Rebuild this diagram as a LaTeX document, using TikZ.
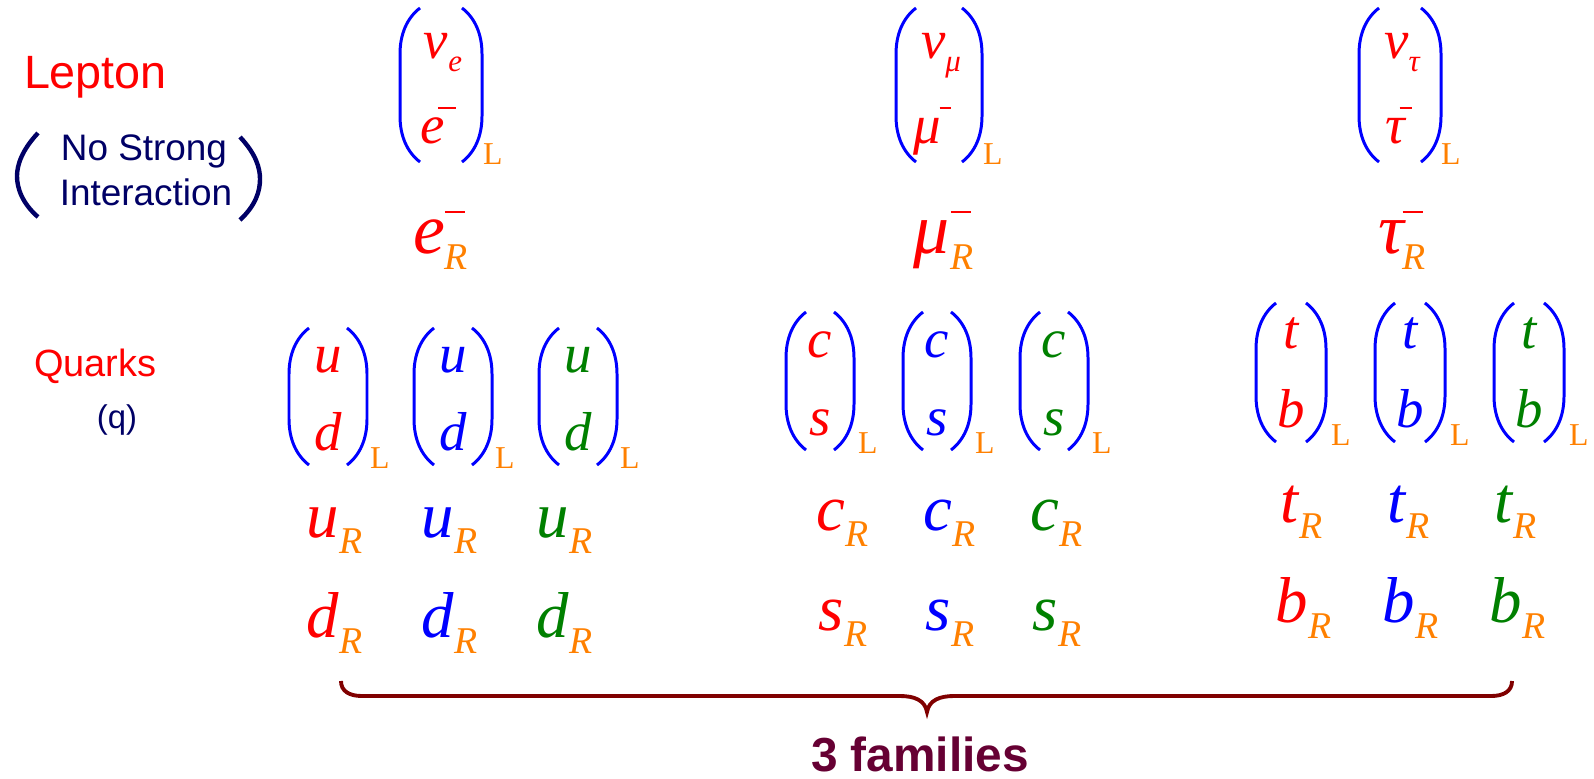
\documentclass[tikz,border=0pt]{standalone}
\usepackage{fontspec}
\setmainfont{Liberation Serif}
\newfontfamily\sansfam{Liberation Sans}

\definecolor{lepred}{RGB}{255,0,0}
\definecolor{qblue}{RGB}{0,0,255}
\definecolor{qgreen}{RGB}{0,128,0}
\definecolor{chiral}{RGB}{255,128,0}
\definecolor{navytext}{RGB}{0,0,102}
\definecolor{bracered}{RGB}{128,0,0}
\definecolor{famcolor}{RGB}{102,0,51}

\newdimen\px \px=0.56693pt

\tikzset{
  txt/.style={inner sep=0pt,outer sep=0pt},
  parenline/.style={draw=qblue,line width=1.7pt},
  sideparen/.style={draw=navytext,line width=2.5pt},
}

% subscripts and entries
\newcommand{\Lsub}{{\color{chiral}\fontsize{18.1}{18.1}\selectfont L}}
\newcommand{\Rsub}{\raisebox{-17\px}{\color{chiral}\fontsize{21.5}{21.5}\selectfont\itshape R}}
\newcommand{\dbl}[2]{{\color{#1}\fontsize{31.2}{31.2}\selectfont\itshape #2}}
\newcommand{\nusub}[1]{\dbl{lepred}{ν}\raisebox{-14\px}{\color{lepred}\fontsize{17.6}{17.6}\selectfont\itshape #1}}
\newcommand{\negbar}[3]{\kern#1\rlap{\raisebox{#2}{\color{lepred}\rule{#3}{2.4\px}}}}
\newcommand{\lepR}[2]{{\color{lepred}\fontsize{40.8}{40.8}\selectfont\itshape #1}\kern#2\negbar{0pt}{40\px}{20\px}\Rsub}
\newcommand{\quarkR}[2]{{\color{#1}\fontsize{36.9}{36.9}\selectfont\itshape #2}\kern1\px\Rsub}

% doublet brackets: centre x, top y, bottom y, half width
\newcommand{\dparen}[4]{%
  \draw[parenline] (#1-#4+20,#2) .. controls (#1-#4+7,#2+10) and (#1-#4,#2+26) .. (#1-#4,#2+46)
    -- (#1-#4,#3-46) .. controls (#1-#4,#3-26) and (#1-#4+7,#3-10) .. (#1-#4+20,#3);
  \draw[parenline] (#1+#4-20,#2) .. controls (#1+#4-7,#2+10) and (#1+#4,#2+26) .. (#1+#4,#2+46)
    -- (#1+#4,#3-46) .. controls (#1+#4,#3-26) and (#1+#4-7,#3-10) .. (#1+#4-20,#3);
}

\begin{document}
\begin{tikzpicture}[x=0.02cm,y=-0.02cm]
\useasboundingbox (0,0) rectangle (1594,778);

% left column
\node[txt,anchor=base west] (lepton) at (24,88)
  {\sansfam\fontsize{26.6}{26.6}\selectfont\color{lepred}Lepton};
\node[txt,anchor=base] (nostrong) at (144,160)
  {\sansfam\fontsize{21}{21}\selectfont\color{navytext}No Strong};
\node[txt,anchor=base] (interaction) at (146,205)
  {\sansfam\fontsize{21}{21}\selectfont\color{navytext}Interaction};
\draw[sideparen] (38,133) .. controls (22,150) and (17,165) .. (17,176)
  .. controls (17,188) and (22,203) .. (38,217);
\draw[sideparen] (240,137) .. controls (256,154) and (260,168) .. (260,179)
  .. controls (260,191) and (256,205) .. (240,220);
\node[txt,anchor=base west] (quarks) at (34,376)
  {\sansfam\fontsize{21.6}{21.6}\selectfont\color{lepred}Quarks};
\node[txt,anchor=base] (qlabel) at (117,428)
  {\sansfam\fontsize{18.7}{18.7}\selectfont\color{navytext}(q)};

% leptons
\dparen{441}{8}{162}{41}
\dparen{939}{8}{162}{43}
\dparen{1400}{8}{162}{41}
\node[txt,anchor=base] (nue) at (443,58) {\nusub{e}};
\node[txt,anchor=base] (numu) at (941,58) {\nusub{μ}};
\node[txt,anchor=base] (nutau) at (1402,58) {\nusub{τ}};
\node[txt,anchor=base west] (eL) at (420,143) {\dbl{lepred}{e}\negbar{-6\px}{34\px}{18\px}};
\node[txt,anchor=base west] (muL) at (913,143) {\dbl{lepred}{μ}\negbar{-1\px}{34\px}{12\px}};
\node[txt,anchor=base west] (tauL) at (1385,143) {\dbl{lepred}{τ}\negbar{-5\px}{34\px}{12\px}};
\node[txt,anchor=base west] (eLsub) at (483,164) {\Lsub};
\node[txt,anchor=base west] (muLsub) at (983,164) {\Lsub};
\node[txt,anchor=base west] (tauLsub) at (1441,164) {\Lsub};
\node[txt,anchor=base west] (eR) at (413,253) {\lepR{e}{0\px}};
\node[txt,anchor=base west] (muR) at (913,253) {\lepR{μ}{2\px}};
\node[txt,anchor=base west] (tauR) at (1378,253) {\lepR{τ}{-1\px}};

% first family quarks
\foreach \cx/\col [count=\k] in {328/lepred,453/qblue,578/qgreen}{
  \dparen{\cx}{328}{465}{39}
  \node[txt,anchor=base] (u\k) at (\cx,372) {\dbl{\col}{u}};
  \node[txt,anchor=base] (d\k) at (\cx,450) {\dbl{\col}{d}};
  \node[txt,anchor=base west] (udL\k) at (\cx+42,468) {\Lsub};
}
\foreach \lx/\col [count=\k] in {306/lepred,421/qblue,536/qgreen}{
  \node[txt,anchor=base west] (uR\k) at (\lx,537) {\quarkR{\col}{u}};
  \node[txt,anchor=base west] (dR\k) at (\lx,637) {\quarkR{\col}{d}};
}

% second family quarks
\foreach \cx/\col [count=\k] in {820/lepred,937/qblue,1054/qgreen}{
  \dparen{\cx}{312}{450}{34}
  \node[txt,anchor=base] (c\k) at (\cx,357) {\dbl{\col}{c}};
  \node[txt,anchor=base] (s\k) at (\cx,435) {\dbl{\col}{s}};
  \node[txt,anchor=base west] (csL\k) at (\cx+38,453) {\Lsub};
}
\foreach \lx/\col [count=\k] in {816/lepred,923/qblue,1030/qgreen}{
  \node[txt,anchor=base west] (cR\k) at (\lx,530) {\quarkR{\col}{c}};
  \node[txt,anchor=base west] (sR\k) at (\lx+2,630) {\quarkR{\col}{s}};
}

% third family quarks
\foreach \cx/\col [count=\k] in {1291/lepred,1410/qblue,1529/qgreen}{
  \dparen{\cx}{303}{442}{35}
  \node[txt,anchor=base] (t\k) at (\cx,348) {\dbl{\col}{t}};
  \node[txt,anchor=base] (b\k) at (\cx,427) {\dbl{\col}{b}};
  \node[txt,anchor=base west] (tbL\k) at (\cx+40,445) {\Lsub};
}
\foreach \lx/\col [count=\k] in {1280/lepred,1387/qblue,1494/qgreen}{
  \node[txt,anchor=base west] (tR\k) at (\lx,522) {\quarkR{\col}{t}};
  \node[txt,anchor=base west] (bR\k) at (\lx-5,622) {\quarkR{\col}{b}};
}

% brace under the three families
\draw[draw=bracered,line width=2.2pt] (341,681) .. controls (341,691) and (349,696) .. (362,696)
  -- (900,696) .. controls (914,696) and (925,700) .. (927,712)
  .. controls (929,700) and (940,696) .. (954,696)
  -- (1491,696) .. controls (1504,696) and (1512,691) .. (1512,681);
\node[txt,anchor=base] (families) at (920,771)
  {\sansfam\bfseries\fontsize{27.2}{27.2}\selectfont\color{famcolor}3 families};
\end{tikzpicture}
\end{document}
